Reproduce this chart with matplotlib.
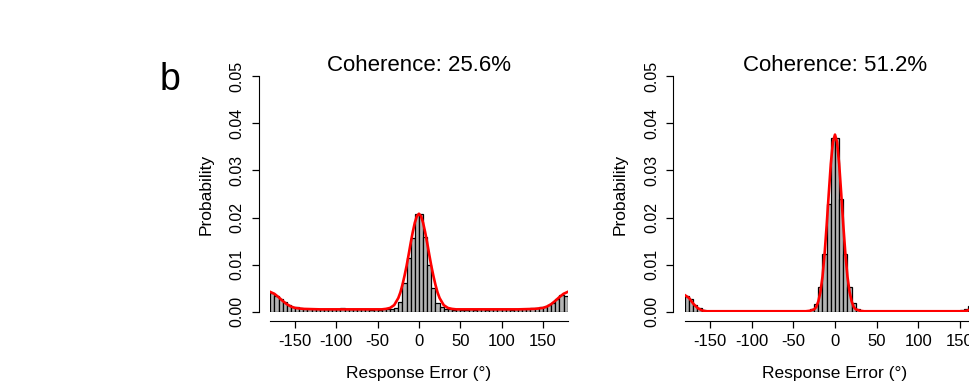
import numpy as np
import matplotlib.pyplot as plt

plt.rcParams['font.family'] = ['Liberation Sans', 'DejaVu Sans']
plt.rcParams['axes.unicode_minus'] = False

# histogram bins, 5 deg wide, left edges -180 ... 175
bin_left = list(range(-180, 180, 5))

# coherence 25.6%
hist_256 = [0.0040, 0.0033, 0.0027, 0.0020, 0.0015, 0.0011, 0.0009, 0.0007,
            0.0006, 0.0006, 0.0005, 0.0006, 0.0005, 0.0006, 0.0005, 0.0005,
            0.0006, 0.0007, 0.0006, 0.0005, 0.0005, 0.0006, 0.0005, 0.0005,
            0.0004, 0.0005, 0.0004, 0.0005, 0.0005, 0.0006, 0.0008, 0.0020,
            0.0061, 0.0114, 0.0157, 0.0208, 0.0207, 0.0158, 0.0100, 0.0050,
            0.0018, 0.0009, 0.0006, 0.0005, 0.0004, 0.0005, 0.0004, 0.0004,
            0.0005, 0.0004, 0.0005, 0.0005, 0.0004, 0.0005, 0.0005, 0.0006,
            0.0005, 0.0005, 0.0004, 0.0005, 0.0005, 0.0006, 0.0006, 0.0007,
            0.0007, 0.0011, 0.0010, 0.0015, 0.0019, 0.0026, 0.0035, 0.0033]

# coherence 51.2%
hist_512 = [0.0034, 0.0027, 0.0014, 0.0007, 0.0004, 0.0002, 0.0001, 0.0001,
            0.0001, 0.0001, 0.0001, 0.0001, 0.0001, 0.0001, 0.0001, 0.0001,
            0.0001, 0.0001, 0.0001, 0.0001, 0.0001, 0.0001, 0.0001, 0.0001,
            0.0001, 0.0001, 0.0001, 0.0001, 0.0001, 0.0002, 0.0005, 0.0016,
            0.0052, 0.0122, 0.0229, 0.0369, 0.0369, 0.0239, 0.0122, 0.0052,
            0.0019, 0.0005, 0.0002, 0.0001, 0.0001, 0.0001, 0.0001, 0.0001,
            0.0001, 0.0001, 0.0001, 0.0001, 0.0001, 0.0001, 0.0001, 0.0001,
            0.0001, 0.0001, 0.0001, 0.0001, 0.0001, 0.0001, 0.0001, 0.0001,
            0.0001, 0.0001, 0.0003, 0.0005, 0.0012, 0.0024, 0.0032, 0.0034]

# fitted curves (red)
fit_x_256 = [-180, -175, -170, -165, -160, -155, -150, -140, -120, -100, -80,
             -60, -45, -40, -35, -30, -25, -22.5, -20, -17.5, -15, -12.5, -10,
             -7.5, -5, -2.5, 0, 2.5, 5, 7.5, 10, 12.5, 15, 17.5, 20, 22.5, 25,
             30, 35, 40, 45, 60, 80, 100, 120, 140, 150, 155, 160, 165, 170,
             175, 180]
fit_y_256 = [0.0042, 0.0038, 0.0031, 0.0023, 0.0016, 0.0011, 0.0008, 0.0006,
             0.0005, 0.0005, 0.0005, 0.0005, 0.0005, 0.0006, 0.0008, 0.0014,
             0.0029, 0.0041, 0.0057, 0.0076, 0.0097, 0.0121, 0.0146, 0.0169,
             0.0189, 0.0203, 0.0208, 0.0203, 0.0189, 0.0169, 0.0146, 0.0121,
             0.0097, 0.0076, 0.0057, 0.0041, 0.0029, 0.0014, 0.0008, 0.0006,
             0.0005, 0.0005, 0.0005, 0.0005, 0.0005, 0.0006, 0.0008, 0.0011,
             0.0016, 0.0023, 0.0031, 0.0038, 0.0042]

fit_x_512 = [-180, -175, -170, -165, -160, -155, -150, -100, -50, -35, -30,
             -25, -22.5, -20, -17.5, -15, -12.5, -10, -7.5, -5, -2.5, 0, 2.5,
             5, 7.5, 10, 12.5, 15, 17.5, 20, 22.5, 25, 30, 35, 50, 100, 150,
             155, 160, 165, 170, 175, 180]
fit_y_512 = [0.0035, 0.0029, 0.0017, 0.0008, 0.0003, 0.0001, 0.0001, 0.0001,
             0.0001, 0.0001, 0.0002, 0.0005, 0.0010, 0.0022, 0.0042, 0.0074,
             0.0122, 0.0183, 0.0250, 0.0314, 0.0360, 0.0376, 0.0360, 0.0314,
             0.0250, 0.0183, 0.0122, 0.0074, 0.0042, 0.0022, 0.0010, 0.0005,
             0.0002, 0.0001, 0.0001, 0.0001, 0.0001, 0.0001, 0.0003, 0.0008,
             0.0017, 0.0029, 0.0035]

titles = ["Coherence: 25.6%", "Coherence: 51.2%"]
xticks = [-150, -100, -50, 0, 50, 100, 150]
yticks = [0.00, 0.01, 0.02, 0.03, 0.04, 0.05]


def draw_panel(ax, hist, fit_x, fit_y, title):
    ax.bar(bin_left, hist, width=5, align='edge', color='#b4b4b4',
           edgecolor='black', linewidth=0.9)
    ax.plot(fit_x, fit_y, color='red', lw=1.9)
    ax.set_xlim(-180, 180)
    ax.set_ylim(0, 0.05)
    for s in ['top', 'right']:
        ax.spines[s].set_visible(False)
    ax.spines['left'].set_position(('outward', 8.3))
    ax.spines['bottom'].set_position(('outward', 6.6))
    ax.set_xticks(xticks)
    ax.set_xticklabels([str(t) for t in xticks])
    ax.set_yticks(yticks)
    ax.set_yticklabels(["%.2f" % t for t in yticks], rotation=90, va='center')
    ax.tick_params(length=5, width=0.9, labelsize=11.5, pad=4.5)
    ax.tick_params(axis='x', labelsize=12)
    ax.tick_params(axis='y', pad=5)
    ax.set_xlabel("Response Error (°)", fontsize=12.5, labelpad=12)
    ax.set_ylabel("Probability", fontsize=12.5, labelpad=12)
    ax.set_title(title, fontsize=16, pad=1)


fig = plt.figure(figsize=(9.69, 3.82), dpi=100)
ax1 = fig.add_axes([0.2789, 0.184, 0.3069, 0.6165])
ax2 = fig.add_axes([0.7069, 0.184, 0.3096, 0.6165])
draw_panel(ax1, hist_256, fit_x_256, fit_y_256, titles[0])
draw_panel(ax2, hist_512, fit_x_512, fit_y_512, titles[1])

fig.text(0.175, 0.79, "b", fontsize=27, ha='center', va='center')

fig.savefig("out.png", dpi=100)
